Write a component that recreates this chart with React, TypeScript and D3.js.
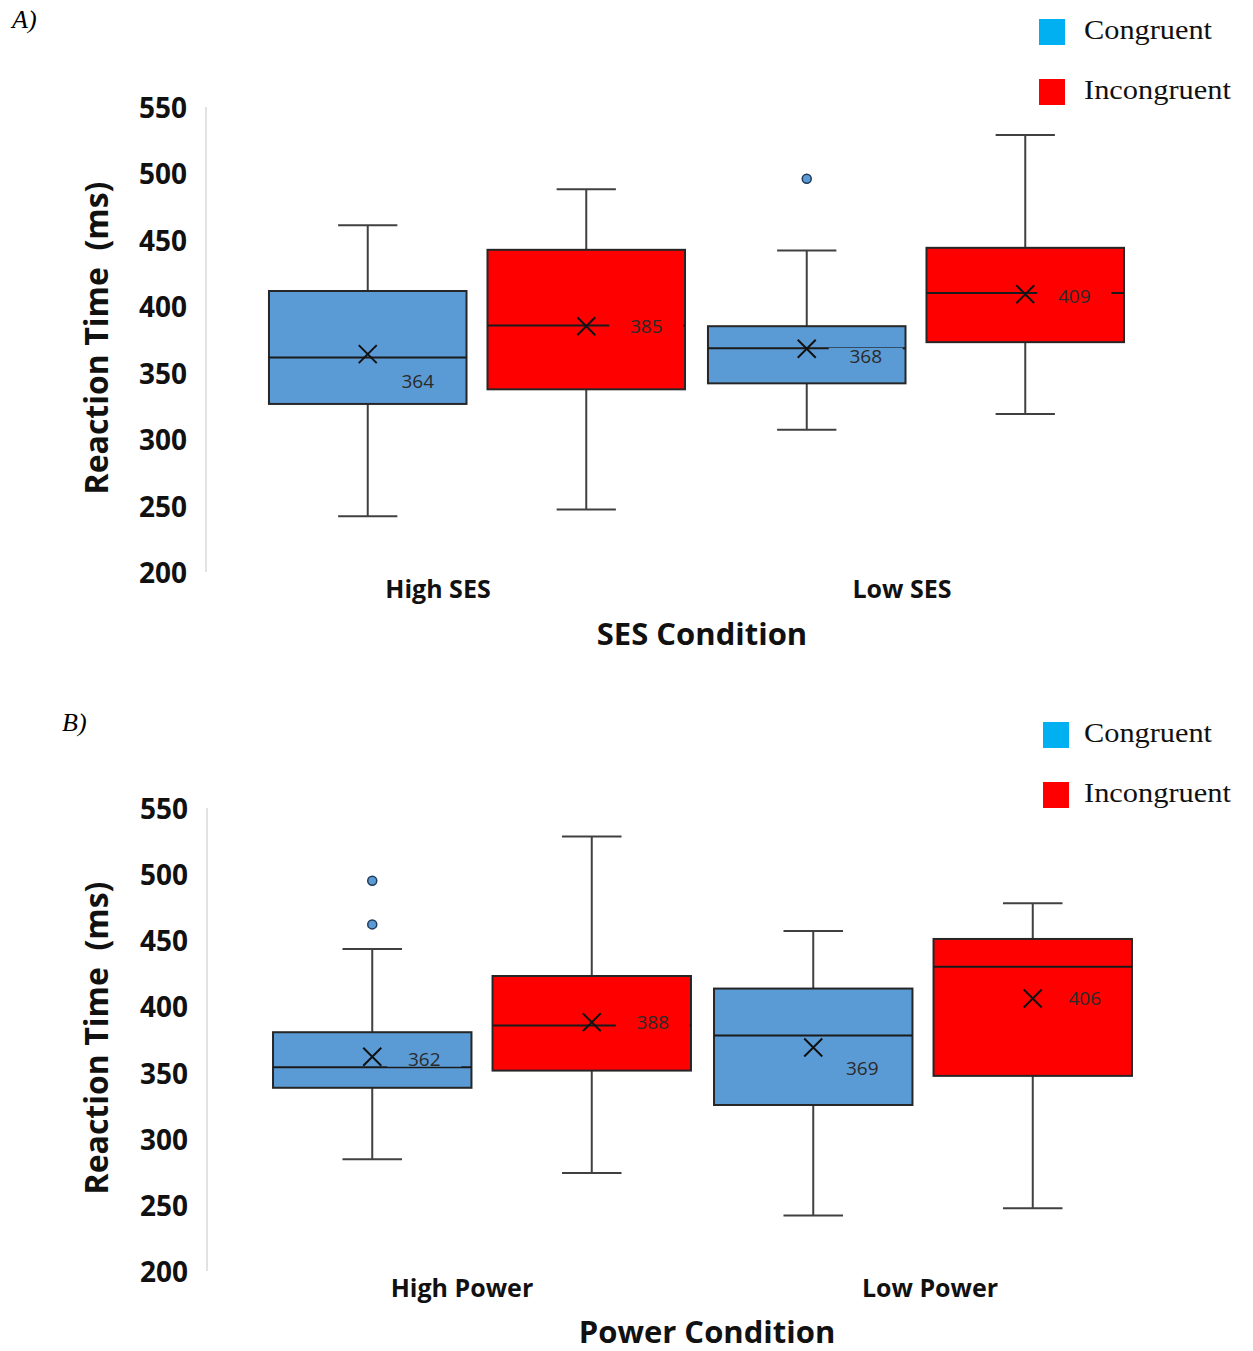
import React from "react";
import * as d3 from "d3";

// series / categories
const seriesNames = ["Congruent", "Incongruent"];
const seriesColors = ["#5b9bd5", "#ff0000"];
const legendColors = ["#00b0f0", "#ff0000"];
const sesCategories = ["High SES", "Low SES"];
const powerCategories = ["High Power", "Low Power"];
const yTicks = [200, 250, 300, 350, 400, 450, 500, 550];

// boxes in order: High-Congruent, High-Incongruent, Low-Congruent, Low-Incongruent
const sesMin = [242, 247, 307, 319];
const sesQ1 = [326.5, 337.5, 342, 373];
const sesMedian = [361.5, 385.5, 368.5, 410];
const sesQ3 = [411.5, 442.5, 385, 444];
const sesMax = [461, 488, 442, 529];
const sesMean = [364, 385, 368, 409];
const sesOutliers = [[], [], [496], []];

const powerMin = [284.5, 274, 242, 247.5];
const powerQ1 = [338.5, 351.5, 325.5, 347.5];
const powerMedian = [354, 385.5, 378, 430];
const powerQ3 = [380.5, 423, 413.5, 451];
const powerMax = [443.5, 528.5, 457, 478];
const powerMean = [362, 388, 369, 406];
const powerOutliers = [[495, 462], [], [], []];

// layout (not data)
const sesLabelNudge = [[50, 27], [60, 0], [59, 7], [49, 2]];
const powerLabelNudge = [[52, 2], [61, 0], [49, 21], [52, 0]];

const sansFont = "'Open Sans', 'Noto Sans', sans-serif";
const serifFont = "'Liberation Serif', 'DejaVu Serif', serif";

type Panel = {
  tag: string;
  tagX: number;
  tagY: number;
  categories: string[];
  catDx: number[];
  xTitle: string;
  min: number[];
  q1: number[];
  median: number[];
  q3: number[];
  max: number[];
  mean: number[];
  outliers: number[][];
  nudge: number[][];
  yTop: number;
  yBottom: number;
  axisX: number;
  bandRange: [number, number];
  catLabelY: number;
  xTitleX: number;
  xTitleY: number;
  yTitleY: number;
  legendX: number;
  legendTextX: number;
  legendY: number;
};

const BoxPanel = ({ p }: { p: Panel }) => {
  const y = d3.scaleLinear().domain([200, 550]).range([p.yBottom, p.yTop]);
  const x = d3.scaleBand().domain(p.categories).range(p.bandRange).padding(0);
  const inner = d3
    .scaleBand()
    .domain(seriesNames)
    .range([0, x.bandwidth()])
    .paddingInner(0.096)
    .paddingOuter(0.0525);
  const bw = inner.bandwidth();

  const boxes = p.categories.flatMap((cat, ci) =>
    seriesNames.map((s, si) => {
      const i = ci * 2 + si;
      const left = (x(cat) as number) + (inner(s) as number);
      return {
        i,
        si,
        left,
        cx: left + bw / 2,
        min: p.min[i],
        q1: p.q1[i],
        med: p.median[i],
        q3: p.q3[i],
        max: p.max[i],
        mean: p.mean[i],
        out: p.outliers[i],
        nudge: p.nudge[i],
      };
    })
  );

  const capW = bw * 0.3;
  const xs = 9;

  return (
    <g>
      <text x={p.tagX} y={p.tagY} fontFamily={serifFont} fontStyle="italic" fontSize={26} dominantBaseline="middle">
        {p.tag}
      </text>

      {/* legend */}
      {seriesNames.map((s, i) => (
        <g key={s}>
          <rect x={p.legendX} y={p.legendY + i * 60} width={26} height={26} fill={legendColors[i]} />
          <text
            x={p.legendTextX}
            y={p.legendY + i * 60 + 14}
            fontFamily={serifFont}
            fontSize={27}
            dominantBaseline="middle"
            fill="#111"
            textLength={i === 0 ? 128 : 147}
            lengthAdjust="spacingAndGlyphs"
          >
            {s}
          </text>
        </g>
      ))}

      {/* y axis */}
      <line x1={p.axisX} x2={p.axisX} y1={y(550)} y2={y(200)} stroke="#d9d9d9" strokeWidth={1.5} />
      {yTicks.map((t) => (
        <text
          key={t}
          x={p.axisX - 19}
          y={y(t)}
          textAnchor="end"
          dominantBaseline="central"
          fontFamily={sansFont}
          fontWeight={700}
          fontSize={28}
          fill="#111"
        >
          {t}
        </text>
      ))}
      <text
        transform={`translate(95,${p.yTitleY}) rotate(-90)`}
        textAnchor="middle"
        dominantBaseline="central"
        fontFamily={sansFont}
        fontWeight={700}
        fontSize={32}
        fill="#111"
        style={{ whiteSpace: "pre" }}
      >
        {"Reaction Time  (ms)"}
      </text>

      {/* x labels */}
      {p.categories.map((c, i) => (
        <text
          key={c}
          x={(x(c) as number) + x.bandwidth() / 2 + p.catDx[i]}
          y={p.catLabelY}
          textAnchor="middle"
          dominantBaseline="central"
          fontFamily={sansFont}
          fontWeight={700}
          fontSize={25}
          fill="#111"
        >
          {c}
        </text>
      ))}
      <text
        x={p.xTitleX}
        y={p.xTitleY}
        textAnchor="middle"
        dominantBaseline="central"
        fontFamily={sansFont}
        fontWeight={700}
        fontSize={31}
        fill="#111"
      >
        {p.xTitle}
      </text>

      {/* boxes */}
      {boxes.map((b) => (
        <g key={b.i}>
          <line x1={b.cx} x2={b.cx} y1={y(b.max)} y2={y(b.q3)} stroke="#404040" strokeWidth={2} />
          <line x1={b.cx} x2={b.cx} y1={y(b.q1)} y2={y(b.min)} stroke="#404040" strokeWidth={2} />
          <line x1={b.cx - capW / 2} x2={b.cx + capW / 2} y1={y(b.max)} y2={y(b.max)} stroke="#404040" strokeWidth={2} />
          <line x1={b.cx - capW / 2} x2={b.cx + capW / 2} y1={y(b.min)} y2={y(b.min)} stroke="#404040" strokeWidth={2} />
          <rect
            x={b.left}
            y={y(b.q3)}
            width={bw}
            height={y(b.q1) - y(b.q3)}
            fill={seriesColors[b.si]}
            stroke="#262626"
            strokeWidth={2}
          />
          <line x1={b.left} x2={b.left + bw} y1={y(b.med)} y2={y(b.med)} stroke="#1a1a1a" strokeWidth={2} />
          {/* data label with box-coloured background */}
          <rect
            x={b.cx + b.nudge[0] - 37}
            y={y(b.mean) + b.nudge[1] - 8}
            width={74}
            height={16}
            fill={seriesColors[b.si]}
          />
          <text
            x={b.cx + b.nudge[0]}
            y={y(b.mean) + b.nudge[1]}
            textAnchor="middle"
            dominantBaseline="central"
            fontFamily={sansFont}
            fontSize={19}
            fill="#2a2a2a"
          >
            {b.mean}
          </text>
          <path
            d={`M${b.cx - xs},${y(b.mean) - xs}L${b.cx + xs},${y(b.mean) + xs}M${b.cx - xs},${y(b.mean) + xs}L${b.cx + xs},${y(b.mean) - xs}`}
            stroke="#111"
            strokeWidth={2}
          />
          {b.out.map((o, k) => (
            <circle key={k} cx={b.cx} cy={y(o)} r={4.5} fill={seriesColors[b.si]} stroke="#1f3a5a" strokeWidth={1.5} />
          ))}
        </g>
      ))}
    </g>
  );
};

const panelA: Panel = {
  tag: "A)",
  tagX: 12,
  tagY: 22,
  categories: sesCategories,
  catDx: [-39, -14],
  xTitle: "SES Condition",
  min: sesMin,
  q1: sesQ1,
  median: sesMedian,
  q3: sesQ3,
  max: sesMax,
  mean: sesMean,
  outliers: sesOutliers,
  nudge: sesLabelNudge,
  yTop: 107,
  yBottom: 572,
  axisX: 206,
  bandRange: [257.5, 1135.5],
  catLabelY: 588,
  xTitleX: 702,
  xTitleY: 633,
  yTitleY: 338,
  legendX: 1039,
  legendTextX: 1084,
  legendY: 19,
};

const panelB: Panel = {
  tag: "B)",
  tagX: 62,
  tagY: 725,
  categories: powerCategories,
  catDx: [-20, 7],
  xTitle: "Power Condition",
  min: powerMin,
  q1: powerQ1,
  median: powerMedian,
  q3: powerQ3,
  max: powerMax,
  mean: powerMean,
  outliers: powerOutliers,
  nudge: powerLabelNudge,
  yTop: 808,
  yBottom: 1271,
  axisX: 207,
  bandRange: [261.5, 1143.5],
  catLabelY: 1287,
  xTitleX: 707,
  xTitleY: 1331,
  yTitleY: 1038,
  legendX: 1043,
  legendTextX: 1084,
  legendY: 722,
};

export default function App() {
  return (
    <svg
      width={1253}
      height={1351}
      style={{ position: "absolute", left: 0, top: 0, background: "#fff" }}
    >
      <BoxPanel p={panelA} />
      <BoxPanel p={panelB} />
    </svg>
  );
}
